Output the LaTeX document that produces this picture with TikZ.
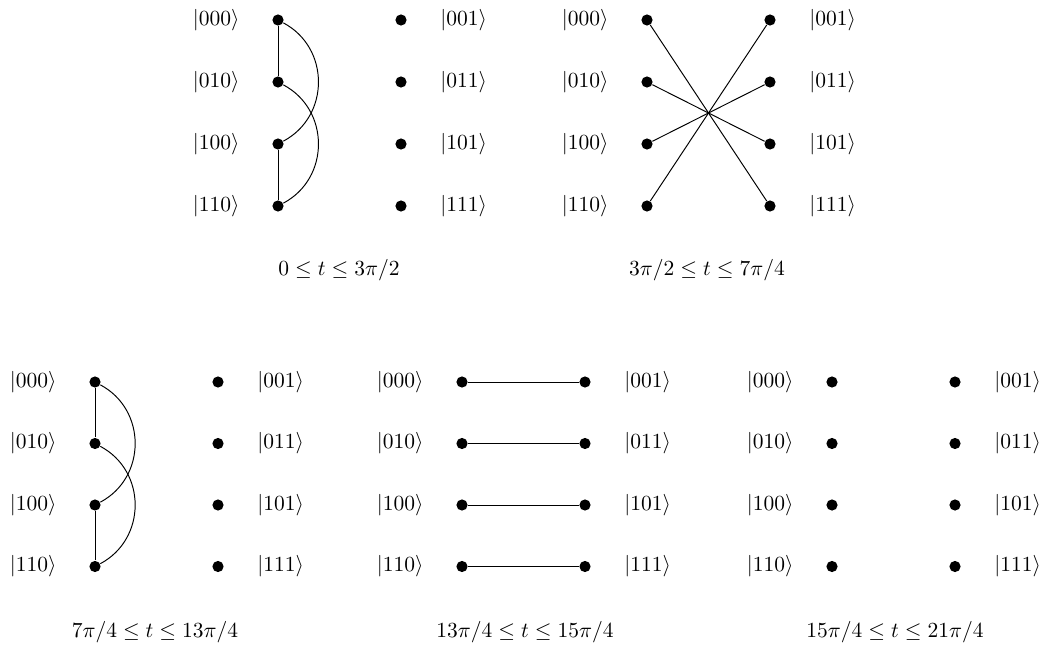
\documentclass[tikz,border=0pt]{standalone}
\begin{document}
\begin{tikzpicture}[x=0.465pt,y=-0.465pt,
  dot/.style={circle,fill,inner sep=0pt,minimum size=5.2pt},
  lab/.style={inner sep=0pt},
  edge/.style={line width=0.45pt},
  arc/.style={line width=0.45pt,out=-28,in=28,looseness=1.15}]
\useasboundingbox (0,0) rectangle (1040,647);
\foreach \p/\x/\y/\s in {A/278/20/62, B/647/20/62, C/95/382/61.5, D/462/382/61.5, E/832/382/61.5}{
  \foreach \l/\r [count=\i from 0] in {000/001,010/011,100/101,110/111}{
    \node[dot] (\p L\i) at (\x,\y+\i*\s) {};
    \node[dot] (\p R\i) at (\x+123,\y+\i*\s) {};
    \node[lab,anchor=east] (\p l\i) at (\x-38,\y+\i*\s) {$|\l\rangle$};
    \node[lab,anchor=west] (\p r\i) at (\x+162,\y+\i*\s) {$|\r\rangle$};
  }
}
% panel A
\draw[edge] (AL0) -- (AL1);
\draw[edge] (AL2) -- (AL3);
\draw[arc] (AL0) to (AL2);
\draw[arc] (AL1) to (AL3);
% panel B
\draw[edge] (BL0) -- (BR3);
\draw[edge] (BL1) -- (BR2);
\draw[edge] (BL2) -- (BR1);
\draw[edge] (BL3) -- (BR0);
% panel C
\draw[edge] (CL0) -- (CL1);
\draw[edge] (CL2) -- (CL3);
\draw[arc] (CL0) to (CL2);
\draw[arc] (CL1) to (CL3);
% panel D
\foreach \i in {0,...,3}{\draw[edge] (DL\i) -- (DR\i);}
% captions
\node (capA) at (339,270) {$0\le t\le 3\pi/2$};
\node (capB) at (707,270) {$3\pi/2\le t\le 7\pi/4$};
\node (capC) at (155,632) {$7\pi/4\le t\le 13\pi/4$};
\node (capD) at (525,632) {$13\pi/4\le t\le 15\pi/4$};
\node (capE) at (895,632) {$15\pi/4\le t\le 21\pi/4$};
\end{tikzpicture}
\end{document}
